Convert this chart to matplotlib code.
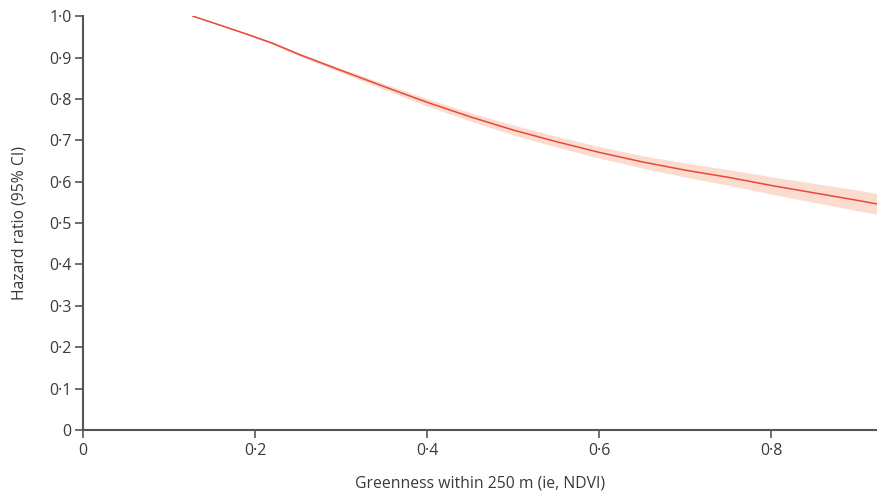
import matplotlib
matplotlib.use("Agg")
import matplotlib.pyplot as plt
import numpy as np

# values
ndvi = [0.128, 0.16, 0.19, 0.22, 0.252, 0.3, 0.35, 0.4, 0.45, 0.5, 0.55, 0.6, 0.65, 0.7, 0.752, 0.8, 0.85, 0.9, 0.924]
hr = [1.0, 0.978, 0.957, 0.935, 0.907, 0.869, 0.83, 0.792, 0.757, 0.725, 0.697, 0.671, 0.648, 0.628, 0.61, 0.591, 0.573, 0.555, 0.546]
ci_low = [1.0, 0.977, 0.955, 0.932, 0.903, 0.864, 0.823, 0.783, 0.747, 0.713, 0.684, 0.657, 0.633, 0.611, 0.591, 0.57, 0.55, 0.53, 0.521]
ci_high = [1.0, 0.979, 0.959, 0.938, 0.911, 0.874, 0.837, 0.801, 0.767, 0.737, 0.71, 0.685, 0.663, 0.645, 0.629, 0.612, 0.596, 0.58, 0.571]

x_ticks = [0, 0.2, 0.4, 0.6, 0.8]
y_ticks = [0, 0.1, 0.2, 0.3, 0.4, 0.5, 0.6, 0.7, 0.8, 0.9, 1.0]


def dot_label(v):
    '''Lancet style decimal point'''
    if v == 0:
        return "0"
    return f"{v:.1f}".replace(".", "\u00b7")


plt.rcParams['font.family'] = ['Open Sans', 'DejaVu Sans']
axis_col = "#555555"
text_col = "#3a3a3a"

fig = plt.figure(figsize=(8.78, 4.92), dpi=100)
ax = fig.add_axes([0.0945, 0.126, 0.9055, 0.841])

ax.fill_between(ndvi, ci_low, ci_high, color="#fbdccf", linewidth=0)
ax.plot(ndvi, hr, color="#e8473a", linewidth=1.1)

ax.set_xlim(0, 0.924)
ax.set_ylim(0, 1.0)
ax.set_xticks(x_ticks)
ax.set_xticklabels([dot_label(v) for v in x_ticks])
ax.set_yticks(y_ticks)
ax.set_yticklabels([dot_label(v) for v in y_ticks])

for side in ["top", "right"]:
    ax.spines[side].set_visible(False)
for side in ["left", "bottom"]:
    ax.spines[side].set_color(axis_col)
    ax.spines[side].set_linewidth(1.5)

ax.tick_params(axis="both", colors=axis_col, labelcolor=text_col, labelsize=11.5,
               length=6, width=1.2, direction="out")
ax.tick_params(axis="y", pad=2)
ax.tick_params(axis="x", pad=3)

ax.set_xlabel("Greenness within 250 m (ie, NDVI)", fontsize=11.3, color=text_col, labelpad=12)
ax.set_ylabel("Hazard ratio (95% CI)", fontsize=11.3, color=text_col, labelpad=16)

fig.savefig("out.png", dpi=100)
